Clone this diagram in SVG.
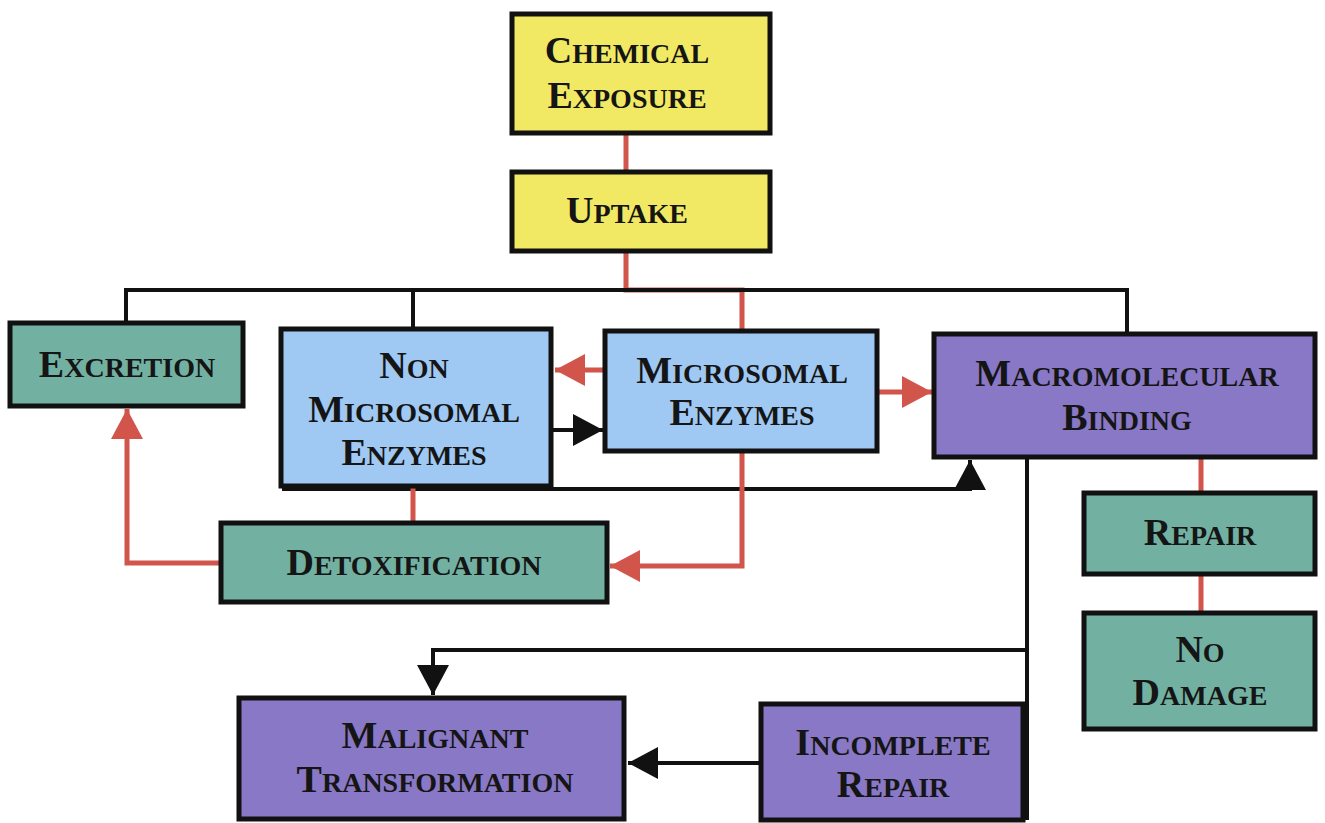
<svg xmlns="http://www.w3.org/2000/svg" width="1325" height="823" viewBox="0 0 1325 823">
<style>
.box{stroke:#111;stroke-width:5}
.y{fill:#f1e963}.t{fill:#72b1a2}.b{fill:#9fc8f3}.p{fill:#8878c6}
.lbl{font-family:"Liberation Serif","Times New Roman",serif;font-weight:bold;font-size:28px;fill:#151515;text-anchor:middle}
.c{font-size:38px}
.k{fill:none;stroke:#111;stroke-width:4}
.r{fill:none;stroke:#d2554c;stroke-width:5}
</style>
<defs>
<marker id="ar" markerUnits="userSpaceOnUse" markerWidth="32" markerHeight="34" refX="30" refY="16" orient="auto"><path d="M0,0 L30,16 L0,32 Z" fill="#d2554c"/></marker>
<marker id="ak" markerUnits="userSpaceOnUse" markerWidth="32" markerHeight="34" refX="30" refY="16" orient="auto"><path d="M0,0 L30,16 L0,32 Z" fill="#111"/></marker>
</defs>
<g id="connectors">
<path class="r" d="M626,133 V171"/>
<path class="r" d="M626,251 V290 H742 V330"/>
<path class="k" d="M126,322 V290 H1127 V333"/>
<path class="k" d="M413,290 V328"/>
<path class="r" d="M604,370 H555" marker-end="url(#ar)"/>
<path class="k" d="M552,430 H603" marker-end="url(#ak)"/>
<path class="r" d="M878,392 H932" marker-end="url(#ar)"/>
<path class="k" d="M282,489 H970 V460" marker-end="url(#ak)"/>
<path class="r" d="M413,487 V522"/>
<path class="r" d="M742,452 V566 H610" marker-end="url(#ar)"/>
<path class="r" d="M220,563 H127 V409" marker-end="url(#ar)"/>
<path class="r" d="M1201,458 V492"/>
<path class="r" d="M1201,575 V612"/>
<path class="k" d="M1027,458 V820"/>
<path class="k" d="M1027,650 H433 V695" marker-end="url(#ak)"/>
<path class="k" d="M760,763 H628" marker-end="url(#ak)"/>
</g>
<g id="chemical-exposure"><rect class="box y" x="512" y="14" width="258" height="119"/>
<text class="lbl" x="627" y="63"><tspan class="c">C</tspan>HEMICAL</text>
<text class="lbl" x="627" y="108"><tspan class="c">E</tspan>XPOSURE</text></g>
<g id="uptake"><rect class="box y" x="512" y="172" width="258" height="79"/>
<text class="lbl" x="627" y="223"><tspan class="c">U</tspan>PTAKE</text></g>
<g id="excretion"><rect class="box t" x="10" y="323" width="233" height="83"/>
<text class="lbl" x="127" y="377"><tspan class="c">E</tspan>XCRETION</text></g>
<g id="non-microsomal"><rect class="box b" x="281" y="329" width="270" height="157"/>
<text class="lbl" x="414" y="378"><tspan class="c">N</tspan>ON</text>
<text class="lbl" x="414" y="422"><tspan class="c">M</tspan>ICROSOMAL</text>
<text class="lbl" x="414" y="465"><tspan class="c">E</tspan>NZYMES</text></g>
<g id="microsomal"><rect class="box b" x="605" y="331" width="272" height="120"/>
<text class="lbl" x="742" y="383"><tspan class="c">M</tspan>ICROSOMAL</text>
<text class="lbl" x="742" y="425"><tspan class="c">E</tspan>NZYMES</text></g>
<g id="macromolecular"><rect class="box p" x="934" y="334" width="381" height="123"/>
<text class="lbl" x="1127" y="386"><tspan class="c">M</tspan>ACROMOLECULAR</text>
<text class="lbl" x="1127" y="430"><tspan class="c">B</tspan>INDING</text></g>
<g id="detoxification"><rect class="box t" x="221" y="523" width="386" height="79"/>
<text class="lbl" x="414" y="575"><tspan class="c">D</tspan>ETOXIFICATION</text></g>
<g id="repair"><rect class="box t" x="1084" y="493" width="231" height="81"/>
<text class="lbl" x="1200" y="545"><tspan class="c">R</tspan>EPAIR</text></g>
<g id="no-damage"><rect class="box t" x="1084" y="613" width="231" height="116"/>
<text class="lbl" x="1200" y="662"><tspan class="c">N</tspan>O</text>
<text class="lbl" x="1200" y="705"><tspan class="c">D</tspan>AMAGE</text></g>
<g id="malignant"><rect class="box p" x="239" y="698" width="385" height="121"/>
<text class="lbl" x="435" y="748"><tspan class="c">M</tspan>ALIGNANT</text>
<text class="lbl" x="435" y="792"><tspan class="c">T</tspan>RANSFORMATION</text></g>
<g id="incomplete-repair"><rect class="box p" x="761" y="704" width="262" height="116"/>
<text class="lbl" x="893" y="755"><tspan class="c">I</tspan>NCOMPLETE</text>
<text class="lbl" x="893" y="797"><tspan class="c">R</tspan>EPAIR</text></g>
</svg>
